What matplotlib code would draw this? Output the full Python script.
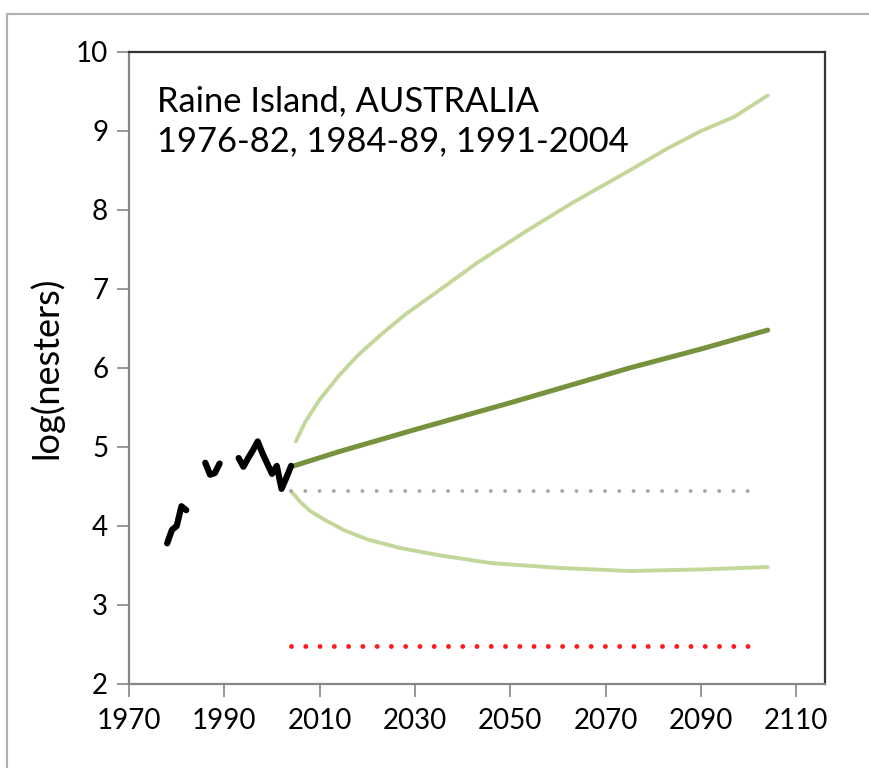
import numpy as np
import matplotlib
matplotlib.use("Agg")
import matplotlib.pyplot as plt
from matplotlib.patches import Rectangle

# observed counts (log scale), three census periods
obs1_years = [1978, 1979, 1980, 1981, 1982]
obs1_vals = [3.78, 3.95, 4.00, 4.25, 4.20]
obs2_years = [1986, 1987, 1988, 1989]
obs2_vals = [4.80, 4.65, 4.67, 4.79]
obs3_years = [1993, 1994, 1995, 1996, 1997, 1998, 1999, 2000, 2001, 2002, 2003, 2004]
obs3_vals = [4.86, 4.75, 4.86, 4.96, 5.07, 4.92, 4.79, 4.66, 4.76, 4.47, 4.61, 4.76]

# projections
mean_years = [2004, 2014, 2030, 2050, 2075, 2090, 2104]
mean_vals = [4.75, 4.94, 5.22, 5.56, 6.00, 6.24, 6.48]
upper_years = [2005, 2007, 2010, 2014, 2018, 2023, 2028, 2035, 2043, 2053,
               2063, 2075, 2083, 2090, 2097, 2104]
upper_vals = [5.07, 5.32, 5.60, 5.90, 6.16, 6.43, 6.68, 6.98, 7.33, 7.72,
              8.09, 8.50, 8.78, 9.00, 9.18, 9.45]
lower_years = [2004, 2006, 2008, 2011, 2015, 2020, 2027, 2035, 2046, 2060, 2075, 2090, 2104]
lower_vals = [4.44, 4.30, 4.19, 4.08, 3.95, 3.83, 3.72, 3.63, 3.53, 3.47, 3.43, 3.45, 3.48]

# reference levels
threshold_years = [2004, 2100]
current_level = [4.44, 4.44]
extinction_level = [2.48, 2.48]

x_ticks = [1970, 1990, 2010, 2030, 2050, 2070, 2090, 2110]
y_ticks = [2, 3, 4, 5, 6, 7, 8, 9, 10]

plt.rcParams['font.family'] = ['Lato', 'DejaVu Sans']

fig = plt.figure(figsize=(8.7, 7.68), dpi=100)
ax = fig.add_axes([0.1483, 0.1094, 0.7999, 0.8229])

# outer chart frame
fig.patches.append(Rectangle((0.008, -0.05), 1.2, 1.032, transform=fig.transFigure,
                             fill=False, edgecolor='#b0b0b0', linewidth=1.5))

light = '#c4d79b'
dark = '#76923c'

ax.plot(upper_years, upper_vals, color=light, lw=2.8, solid_capstyle='round', zorder=2)
ax.plot(lower_years, lower_vals, color=light, lw=2.8, solid_capstyle='round', zorder=2)
ax.plot(mean_years, mean_vals, color=dark, lw=3.6, solid_capstyle='round', zorder=3)

ax.plot(threshold_years, current_level, color='#a6a6a6', lw=2.8,
        linestyle=(0, (0.01, 3.66)), dash_capstyle='round', zorder=2)
ax.plot(threshold_years, extinction_level, color='#ff1a1a', lw=3.5,
        linestyle=(0, (0.01, 2.925)), dash_capstyle='round', zorder=2)

for yrs, vals in [(obs1_years, obs1_vals), (obs2_years, obs2_vals), (obs3_years, obs3_vals)]:
    ax.plot(yrs, vals, color='black', lw=4.5, solid_capstyle='round',
            solid_joinstyle='round', zorder=4)

ax.set_xlim(1970, 2116)
ax.set_ylim(2, 10)
ax.set_xticks(x_ticks)
ax.set_yticks(y_ticks)
ax.tick_params(axis='both', direction='out', length=9, width=1.2, color='#868686',
               labelsize=20, pad=6)
ax.tick_params(axis='x', pad=8)

for side in ['left', 'bottom']:
    ax.spines[side].set_color('#868686')
    ax.spines[side].set_linewidth(1.6)
for side in ['top', 'right']:
    ax.spines[side].set_color('#333333')
    ax.spines[side].set_linewidth(1.6)

ax.set_ylabel('log(nesters)', fontsize=26, labelpad=9)

ax.text(0.04, 0.947, 'Raine Island, AUSTRALIA\n1976-82, 1984-89, 1991-2004',
        transform=ax.transAxes, fontsize=24.8, va='top', ha='left', linespacing=1.3)

fig.savefig('out.png', dpi=100)
